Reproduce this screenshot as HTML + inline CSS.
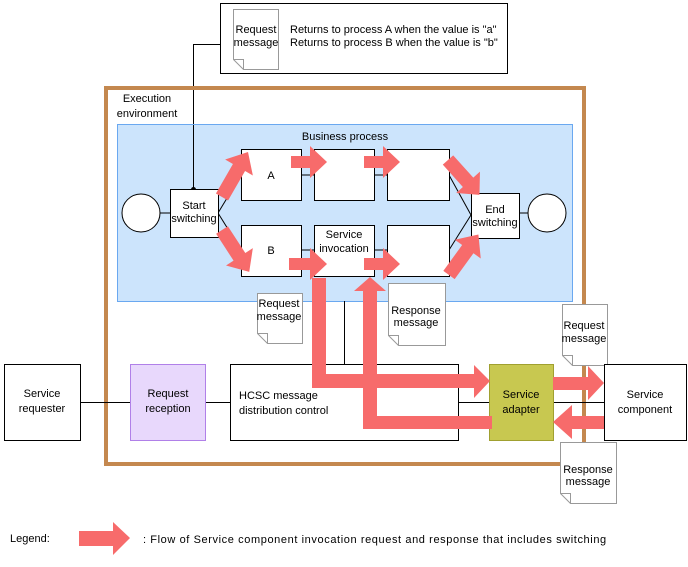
<!DOCTYPE html>
<html><head><meta charset="utf-8"><style>
html,body{margin:0;padding:0;background:#fff}
svg{display:block}
text{font-family:"Liberation Sans",sans-serif;font-size:11px;fill:#000}
</style></head><body>
<svg width="688" height="567" viewBox="0 0 688 567" xmlns="http://www.w3.org/2000/svg">
<!-- top note -->
<rect x="220.5" y="3.5" width="287" height="70" fill="#fff" stroke="#000"/>
<path d="M233.5,9.5 H278.5 V69.5 H243.5 L233.5,59.5 Z" fill="#fff" stroke="#999"/>
<path d="M233.5,59.5 H243.5 V69.5" fill="none" stroke="#999"/>
<text x="256" y="33" text-anchor="middle">Request</text>
<text x="256" y="46" text-anchor="middle">message</text>
<text x="290" y="33">Returns to process A when the value is "a"</text>
<text x="290" y="46">Returns to process B when the value is "b"</text>
<path d="M220,44.5 H193.5 V189" fill="none" stroke="#000"/>

<!-- execution env -->
<rect x="106" y="88" width="478" height="376" fill="none" stroke="#c4884f" stroke-width="4"/>
<text x="147" y="102" text-anchor="middle">Execution</text>
<text x="147" y="117" text-anchor="middle">environment</text>

<!-- business process -->
<rect x="117.5" y="124.5" width="455" height="177" fill="#cce4fc" stroke="#6aa8f0"/>
<text x="345" y="140" text-anchor="middle">Business process</text>
<line x1="193.5" y1="125" x2="193.5" y2="189" stroke="#000"/>
<circle cx="193.5" cy="189.5" r="2.5" fill="#000"/>

<!-- connector lines -->
<g stroke="#000" fill="none">
<line x1="160" y1="213" x2="170" y2="213"/>
<line x1="218" y1="213" x2="241" y2="175"/>
<line x1="218" y1="213" x2="241" y2="250"/>
<line x1="302" y1="175" x2="314" y2="175"/>
<line x1="375" y1="175" x2="387" y2="175"/>
<line x1="302" y1="250" x2="314" y2="250"/>
<line x1="375" y1="250" x2="387" y2="250"/>
<line x1="449" y1="175" x2="471" y2="215"/>
<line x1="449" y1="250" x2="471" y2="215"/>
<line x1="519" y1="213" x2="528" y2="213"/>
<line x1="344.5" y1="301" x2="344.5" y2="364"/>
<line x1="80" y1="402.5" x2="130" y2="402.5"/>
<line x1="205" y1="402.5" x2="230" y2="402.5"/>
<line x1="458" y1="402.5" x2="604" y2="402.5"/>
</g>
<circle cx="141" cy="213" r="19" fill="#fff" stroke="#000"/>
<circle cx="547" cy="213" r="19" fill="#fff" stroke="#000"/>
<g fill="#fff" stroke="#000">
<rect x="170.5" y="189.5" width="48" height="48"/>
<rect x="241.5" y="149.5" width="60" height="51"/>
<rect x="314.5" y="149.5" width="60" height="51"/>
<rect x="387.5" y="149.5" width="62" height="51"/>
<rect x="241.5" y="225.5" width="60" height="51"/>
<rect x="314.5" y="225.5" width="60" height="51"/>
<rect x="387.5" y="225.5" width="62" height="51"/>
<rect x="471.5" y="193.5" width="48" height="45"/>
</g>
<text x="194" y="209" text-anchor="middle">Start</text>
<text x="194" y="222" text-anchor="middle">switching</text>
<text x="271" y="179" text-anchor="middle">A</text>
<text x="271" y="254" text-anchor="middle">B</text>
<text x="344" y="238" text-anchor="middle">Service</text>
<text x="344" y="252" text-anchor="middle">invocation</text>
<text x="495" y="213" text-anchor="middle">End</text>
<text x="495" y="226" text-anchor="middle">switching</text>

<!-- docs -->
<g fill="#fff" stroke="#999">
<path d="M257.5,293.5 H302.5 V343.5 H267.5 L257.5,333.5 Z"/><path d="M257.5,333.5 H267.5 V343.5" fill="none"/>
<path d="M388.5,283.5 H445.5 V345.5 H398.5 L388.5,335.5 Z"/><path d="M388.5,335.5 H398.5 V345.5" fill="none"/>
<path d="M562.5,304.5 H607.5 V365.5 H572.5 L562.5,355.5 Z"/><path d="M562.5,355.5 H572.5 V365.5" fill="none"/>
<path d="M560.5,442.5 H616.5 V503.5 H570.5 L560.5,493.5 Z"/><path d="M560.5,493.5 H570.5 V503.5" fill="none"/>
</g>
<text x="279" y="307" text-anchor="middle">Request</text>
<text x="279" y="320" text-anchor="middle">message</text>
<text x="416" y="314" text-anchor="middle">Response</text>
<text x="416" y="326" text-anchor="middle">message</text>
<text x="584" y="329" text-anchor="middle">Request</text>
<text x="584" y="342" text-anchor="middle">message</text>
<text x="588" y="473" text-anchor="middle">Response</text>
<text x="588" y="485" text-anchor="middle">message</text>

<!-- bottom boxes -->
<rect x="4.5" y="364.5" width="76" height="76" fill="#fff" stroke="#000"/>
<text x="42" y="397" text-anchor="middle">Service</text>
<text x="42" y="412" text-anchor="middle">requester</text>
<rect x="130.5" y="364.5" width="75" height="76" fill="#e8d8fc" stroke="#b080e8"/>
<text x="168" y="397" text-anchor="middle">Request</text>
<text x="168" y="412" text-anchor="middle">reception</text>
<rect x="230.5" y="364.5" width="228" height="76" fill="#fff" stroke="#000"/>
<text x="239" y="399">HCSC message</text>
<text x="239" y="414">distribution control</text>
<rect x="604.5" y="364.5" width="82" height="76" fill="#fff" stroke="#000"/>
<text x="645" y="398" text-anchor="middle">Service</text>
<text x="645" y="413" text-anchor="middle">component</text>
<path d="M489.5,364.5 H553.5 V440.5 H489.5 Z" fill="#c8c850" stroke="#a0a030"/>
<text x="521" y="398" text-anchor="middle">Service</text>
<text x="521" y="413" text-anchor="middle">adapter</text>

<!-- red arrows -->
<g fill="#f76b6b">
<polygon points="291,156 310,156 310,146 327,162 310,178 310,168 291,168"/>
<polygon points="364,156 383,156 383,146 400,162 383,178 383,168 364,168"/>
<polygon points="289,258 310,258 310,248 327,264 310,280 310,270 289,270"/>
<polygon points="364,258 383,258 383,248 400,264 383,280 383,270 364,270"/>
<polygon transform="translate(222,197) rotate(-60)" points="0,-7 34,-7 34,-16 52,0 34,16 34,7 0,7"/>
<polygon transform="translate(222,230) rotate(57)" points="0,-7 32,-7 32,-16 50,0 32,16 32,7 0,7"/>
<polygon transform="translate(448,160) rotate(48)" points="0,-7 30,-7 30,-16 47,0 30,16 30,7 0,7"/>
<polygon transform="translate(449,275) rotate(-54)" points="0,-7 32,-7 32,-16 50,0 32,16 32,7 0,7"/>
<polygon points="312,278 326,278 326,374 474,374 474,365 490,381 474,398 474,388 312,388"/>
<polygon points="492,416 492,429 363,429 363,291 354,291 370,277 386,291 377,291 377,416"/>
<polygon points="553,377 588,377 588,366 604,383 588,400 588,390 553,390"/>
<polygon points="604,416 572,416 572,405 553,422 572,439 572,429 604,429"/>
<polygon points="79,531 113,531 113,522 130,538 113,555 113,546 79,546"/>
</g>
<text x="10" y="542">Legend:</text>
<text x="143" y="543" style="letter-spacing:0.6px">: Flow of Service component invocation request and response that includes switching</text>
</svg>
</body></html>
